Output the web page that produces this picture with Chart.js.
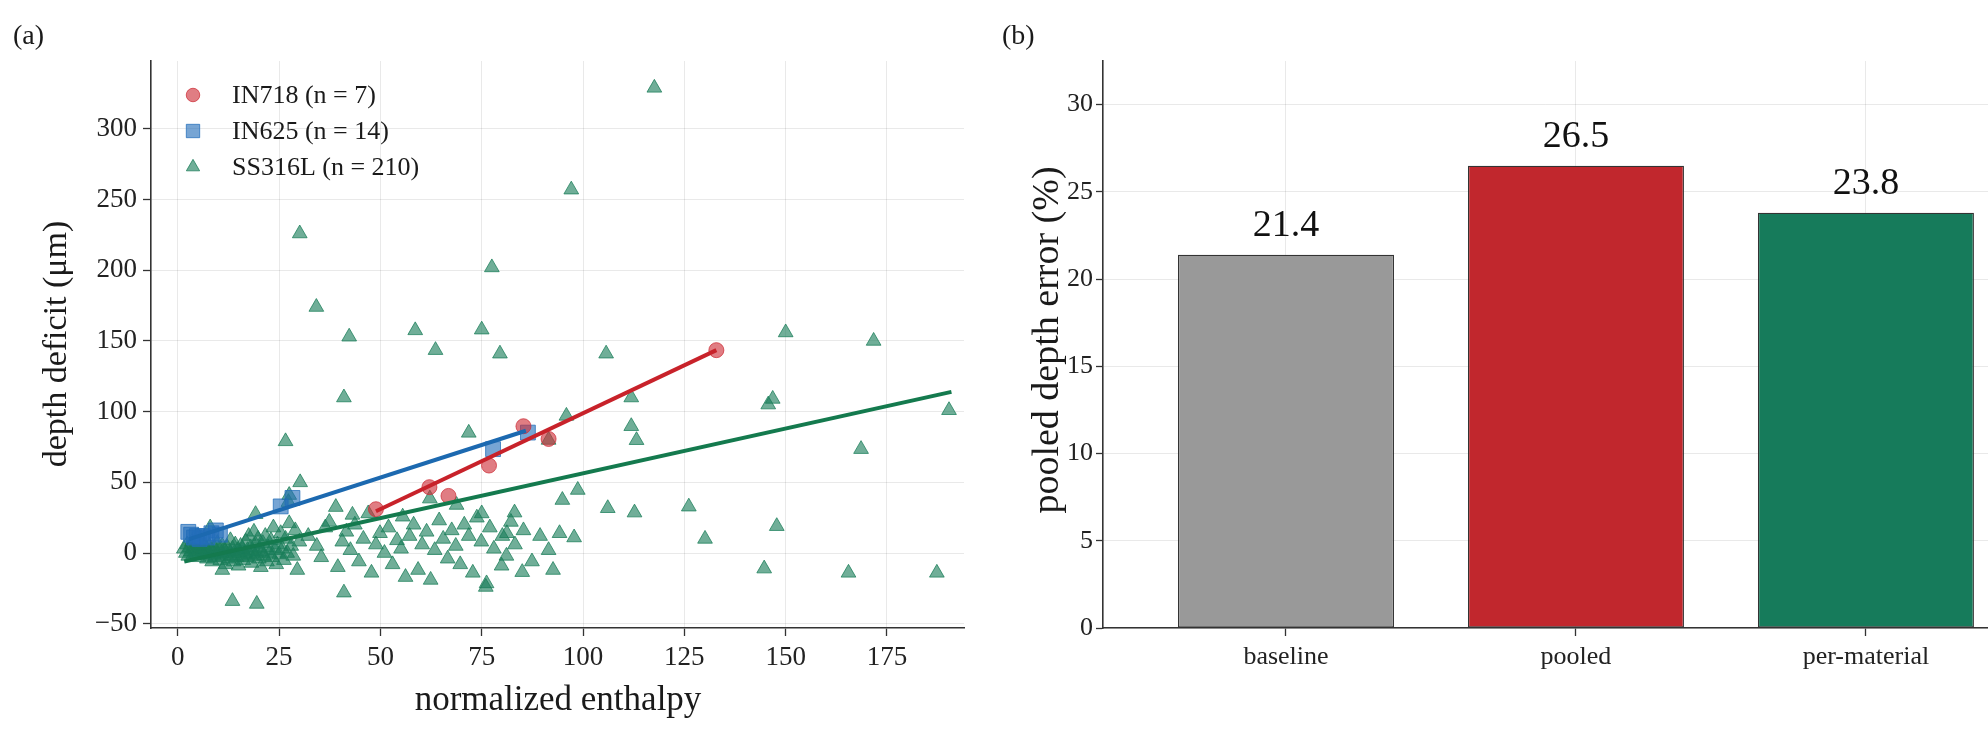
<!DOCTYPE html>
<html lang="en">
<head>
  <meta charset="UTF-8" />
  <title>Depth deficit vs normalized enthalpy</title>
  <script src="https://cdn.jsdelivr.net/npm/chart.js"></script>
  <style>
    html, body { margin: 0; padding: 0; background: #fff; }
    #wrap { position: relative; width: 1988px; height: 732px; overflow: hidden; }
    canvas { position: absolute; top: 0; }
    #scatterChart { left: 0; }
    #barChart { left: 990px; }
  </style>
</head>
<body>
  <div id="wrap">
    <canvas id="scatterChart" width="1000" height="732"></canvas>
    <canvas id="barChart" width="998" height="732"></canvas>
  </div>

  <script>
    // ---- panel (a) data: [normalized enthalpy, depth deficit um] ----
    const in718 = [[48.9, 31], [62.1, 46.6], [66.8, 40.4], [76.8, 61.9], [85.3, 89.7], [91.5, 80.7], [132.9, 143.5]];
    const in625 = [[2.6, 15], [3.3, 13], [4, 11], [4.7, 12], [5.4, 10], [6.2, 12], [7.3, 11], [8.3, 14], [9.4, 16],
                   [10.4, 13], [25.4, 33], [28.3, 39], [77.8, 73.5], [86.4, 85.2]];
    const ss316l = [
      // high / sparse
      [117.6, 329], [97.1, 257], [30.1, 226], [77.5, 202], [34.2, 174], [58.6, 157.5], [75, 158], [150, 156], [171.7, 150],
      [42.3, 153], [63.6, 143.5], [79.5, 141], [105.7, 141], [41, 110], [111.9, 110], [145.7, 105], [146.8, 109], [190.3, 101],
      [111.9, 89.7], [113.2, 79.8], [95.9, 97], [71.8, 85], [91.5, 80], [168.6, 73.5], [26.6, 79],
      // middle band
      [30.2, 50], [27.5, 41], [27.3, 36], [19.2, 27.5], [39, 32.5], [43.1, 27], [47, 28], [62.2, 38.5], [68.8, 34],
      [98.7, 44.6], [94.9, 37.5], [75, 28], [83.1, 28.6], [106.1, 31.7], [112.7, 28.6], [126.1, 32.8], [55.5, 25.7],
      // low, right side
      [147.8, 19], [165.5, -14], [187.3, -14], [144.7, -11], [130.1, 10], [97.8, 11], [94.2, 14], [85, -13.5], [76.2, -21.5],
      [79.9, -9], [81.2, 14], [13.5, -34], [19.5, -36], [41, -28], [76, -24],
      // x 30..95
      [32.2, 12], [34.3, 5], [35.4, -3], [36.4, 18], [37.4, 22], [39.5, -10], [40.6, 8], [41.6, 15], [42.6, 2], [43.7, 20],
      [44.7, -6], [45.8, 10], [47.8, -14], [48.9, 6], [49.9, 14], [51, 0], [52, 18], [53, -8], [54.1, 9], [55.1, 3],
      [56.2, -17], [57.2, 12], [58.2, 20], [59.3, -12], [60.3, 6], [61.4, 15], [62.4, -19], [63.4, 2], [64.5, 23], [65.5, 10],
      [66.6, -4], [67.6, 16], [68.6, 5], [69.7, -8], [70.7, 20], [71.8, 12], [72.8, -14], [73.8, 25], [74.9, 8], [77, 18],
      [78, 3], [80.1, 12], [81.1, -2], [82.2, 22], [83.2, 6], [85.3, 16], [87.4, -6], [89.4, 12], [91.5, 2], [92.6, -12],
      // dense cluster x 1..31
      [1.5, 3], [2, 0], [2.3, 6], [2.6, -2], [3, 4], [3.2, 1], [3.5, 8], [3.8, -1], [4, 3], [4.2, 5],
      [4.5, 0], [4.8, 2], [5, 7], [5.2, -3], [5.5, 1], [5.8, 4], [6, -1], [6.2, 2], [6.5, 6], [6.8, 0],
      [7, 3], [7.2, -4], [7.5, 1], [7.8, 5], [8, -2], [8.2, 2], [8.5, -6], [8.8, 0], [9, 4], [9.2, -3],
      [9.5, 1], [9.8, 7], [10, -1], [10.2, 3], [10.5, -5], [10.8, 0], [11, 5], [11.2, -2], [11.5, 2], [11.8, -8],
      [12, 0], [12.2, 4], [12.5, -4], [12.8, 1], [13, 9], [13.2, -2], [13.5, 3], [13.8, -6], [14, 0], [14.2, 6],
      [14.5, -3], [14.8, 2], [15, -9], [15.2, 1], [15.5, 5], [15.8, -2], [16, 3], [16.2, -5], [16.5, 0], [16.8, 8],
      [17, -3], [17.2, 2], [17.5, 12], [17.8, -1], [18, 4], [18.2, -7], [18.5, 1], [18.8, 15], [19, -2], [19.2, 6],
      [19.5, 0], [19.8, 10], [20, -4], [20.2, 3], [20.5, -10], [20.8, 1], [21, 7], [21.3, -2], [21.6, 12], [22, -6],
      [22.3, 4], [22.6, 0], [23, 9], [23.3, -3], [23.6, 18], [24, 2], [24.3, -8], [24.6, 6], [25, -1], [25.4, 14],
      [25.8, 3], [26.2, -5], [26.6, 10], [27, 0], [27.5, 21], [28, 5], [28.5, -2], [29, 16], [29.5, -12], [30, 8],
      [5, 12], [8, 18], [11, -12]
    ];

    // fitted trend lines (end points)
    const in718Fit = [[48.9, 29.6], [132.9, 143.5]];
    const in625Fit = [[2.8, 9.9], [85.9, 86.5]];
    const ss316lFit = [[1.6, -6], [190.9, 114]];

    const seriesNames = ['IN718 (n = 7)', 'IN625 (n = 14)', 'SS316L (n = 210)'];
    const xTicksA = [0, 25, 50, 75, 100, 125, 150, 175];
    const yTicksA = [-50, 0, 50, 100, 150, 200, 250, 300];

    // ---- panel (b) data ----
    const categories = ['baseline', 'pooled', 'per-material'];
    const pooledError = [21.4, 26.5, 23.8];
    const yTicksB = [0, 5, 10, 15, 20, 25, 30];

    const SERIF = "'Liberation Serif', 'DejaVu Serif', serif";
    Chart.defaults.font.family = SERIF;
    Chart.defaults.color = '#222';

    const AXIS = '#333';
    const GRID = 'rgba(0,0,0,0.085)';
    const minus = v => String(v).replace('-', '\u2212');

    // text drawn at fixed spots (panel letters, axis titles)
    const panelText = {
      id: 'panelText',
      afterDraw(chart, args, opts) {
        const ctx = chart.ctx;
        ctx.save();
        ctx.fillStyle = '#1a1a1a';
        opts.items.forEach(t => {
          ctx.save();
          ctx.font = t.font;
          ctx.textAlign = t.align || 'center';
          ctx.textBaseline = 'middle';
          ctx.translate(t.x, t.y);
          if (t.rotate) ctx.rotate(t.rotate);
          ctx.fillText(t.text, 0, 0);
          ctx.restore();
        });
        ctx.restore();
      }
    };

    function marker(ctx, style, x, y, r) {
      ctx.beginPath();
      if (style === 'circle') {
        ctx.arc(x, y, r, 0, Math.PI * 2);
      } else if (style === 'rect') {
        const s = r * Math.SQRT1_2;
        ctx.rect(x - s, y - s, 2 * s, 2 * s);
      } else {
        for (let k = 0; k < 3; k++) {
          const a = k * 2 * Math.PI / 3;
          const px = x + Math.sin(a) * r, py = y - Math.cos(a) * r;
          k === 0 ? ctx.moveTo(px, py) : ctx.lineTo(px, py);
        }
        ctx.closePath();
      }
      ctx.fill();
      ctx.stroke();
    }

    // legend in the upper-left of the plot area
    const scatterLegend = {
      id: 'scatterLegend',
      afterDraw(chart) {
        const ctx = chart.ctx;
        const area = chart.chartArea;
        ctx.save();
        ctx.font = '26px ' + SERIF;
        ctx.textBaseline = 'middle';
        chart.data.datasets.filter(ds => ds.legend).forEach((ds, i) => {
          const cx = area.left + 42, cy = area.top + 34 + i * 36;
          ctx.fillStyle = ds.backgroundColor;
          ctx.strokeStyle = ds.borderColor;
          ctx.lineWidth = 1;
          marker(ctx, ds.pointStyle, cx, cy, ds.pointRadius * 0.9);
          ctx.fillStyle = '#1a1a1a';
          ctx.fillText(ds.label, area.left + 81, cy + 1);
        });
        ctx.restore();
      }
    };

    function pointSet(label, data, rgb, style, radius, order) {
      return {
        label: label,
        legend: true,
        data: data,
        pointStyle: style,
        pointRadius: radius,
        backgroundColor: 'rgba(' + rgb + ',0.62)',
        borderColor: 'rgba(' + rgb + ',0.75)',
        borderWidth: 1,
        order: order
      };
    }

    function fitSet(data, color) {
      return {
        label: '',
        data: data,
        showLine: true,
        pointRadius: 0,
        borderColor: color,
        borderWidth: 4,
        order: 1
      };
    }

    new Chart(document.getElementById('scatterChart'), {
      type: 'scatter',
      data: {
        datasets: [
          fitSet(in718Fit, '#c8222a'),
          fitSet(in625Fit, '#1c69b0'),
          fitSet(ss316lFit, '#147a4e'),
          pointSet(seriesNames[0], in718, '205,45,55', 'circle', 7.5, 2),
          pointSet(seriesNames[1], in625, '35,110,185', 'rect', 10.5, 3),
          pointSet(seriesNames[2], ss316l, '25,125,88', 'triangle', 8.5, 4)
        ]
      },
      options: {
        responsive: false,
        animation: false,
        events: [],
        layout: { padding: { top: 61, right: 36, left: 0, bottom: 0 } },
        plugins: {
          legend: { display: false },
          tooltip: { enabled: false },
          panelText: {
            items: [
              { text: '(a)', x: 13, y: 37, font: '28px ' + SERIF, align: 'left' },
              { text: 'depth deficit (\u03bcm)', x: 57, y: 344, font: '34px ' + SERIF, rotate: -Math.PI / 2 },
              { text: 'normalized enthalpy', x: 558, y: 701, font: '35px ' + SERIF }
            ]
          }
        },
        scales: {
          x: {
            type: 'linear',
            min: -6.6,
            max: 194,
            afterBuildTicks: s => { s.ticks = xTicksA.map(v => ({ value: v })); },
            afterFit: s => { s.height = 104; },
            ticks: { font: { size: 27 }, padding: 6, callback: v => minus(v) },
            grid: { color: GRID, tickColor: AXIS, tickLength: 8, tickWidth: 1.3 },
            border: { color: AXIS, width: 1.6 }
          },
          y: {
            type: 'linear',
            min: -53,
            max: 348,
            afterBuildTicks: s => { s.ticks = yTicksA.map(v => ({ value: v })); },
            afterFit: s => { s.width = 151; },
            ticks: { font: { size: 27 }, padding: 6, callback: v => minus(v) },
            grid: { color: GRID, tickColor: AXIS, tickLength: 8, tickWidth: 1.3 },
            border: { color: AXIS, width: 1.6 }
          }
        }
      },
      plugins: [panelText, scatterLegend]
    });

    // value labels on top of the bars
    const barValues = {
      id: 'barValues',
      afterDatasetsDraw(chart) {
        const ctx = chart.ctx;
        ctx.save();
        ctx.font = '38px ' + SERIF;
        ctx.fillStyle = '#111';
        ctx.textAlign = 'center';
        ctx.textBaseline = 'bottom';
        chart.getDatasetMeta(0).data.forEach((bar, i) => {
          ctx.fillText(pooledError[i].toFixed(1), bar.x, bar.y - 10);
        });
        ctx.restore();
      }
    };

    new Chart(document.getElementById('barChart'), {
      type: 'bar',
      data: {
        datasets: [{
          data: pooledError.map((v, i) => ({ x: i, y: v })),
          backgroundColor: ['#999999', '#c1272d', '#167b5b'],
          borderColor: '#333',
          borderWidth: 1.3,
          borderSkipped: false,
          categoryPercentage: 0.745,
          barPercentage: 1
        }]
      },
      options: {
        responsive: false,
        animation: false,
        events: [],
        layout: { padding: { top: 61, right: 0, left: 0, bottom: 0 } },
        plugins: {
          legend: { display: false },
          tooltip: { enabled: false },
          panelText: {
            items: [
              { text: '(b)', x: 12, y: 37, font: '28px ' + SERIF, align: 'left' },
              { text: 'pooled depth error (%)', x: 58, y: 340, font: '38px ' + SERIF, rotate: -Math.PI / 2 }
            ]
          }
        },
        scales: {
          x: {
            type: 'linear',
            offset: false,
            min: -0.631,
            max: 2.421,
            afterBuildTicks: s => { s.ticks = categories.map((c, i) => ({ value: i })); },
            afterFit: s => { s.height = 104; },
            ticks: { font: { size: 26 }, padding: 6, callback: v => categories[v] },
            grid: { offset: false, color: GRID, tickColor: AXIS, tickLength: 8, tickWidth: 1.3 },
            border: { color: AXIS, width: 1.6 }
          },
          y: {
            type: 'linear',
            min: 0,
            max: 32.5,
            afterBuildTicks: s => { s.ticks = yTicksB.map(v => ({ value: v })); },
            afterFit: s => { s.width = 113; },
            ticks: { font: { size: 26 }, padding: 3 },
            grid: { color: GRID, tickColor: AXIS, tickLength: 7, tickWidth: 1.3 },
            border: { color: AXIS, width: 1.6 }
          }
        }
      },
      plugins: [panelText, barValues]
    });
  </script>
</body>
</html>
